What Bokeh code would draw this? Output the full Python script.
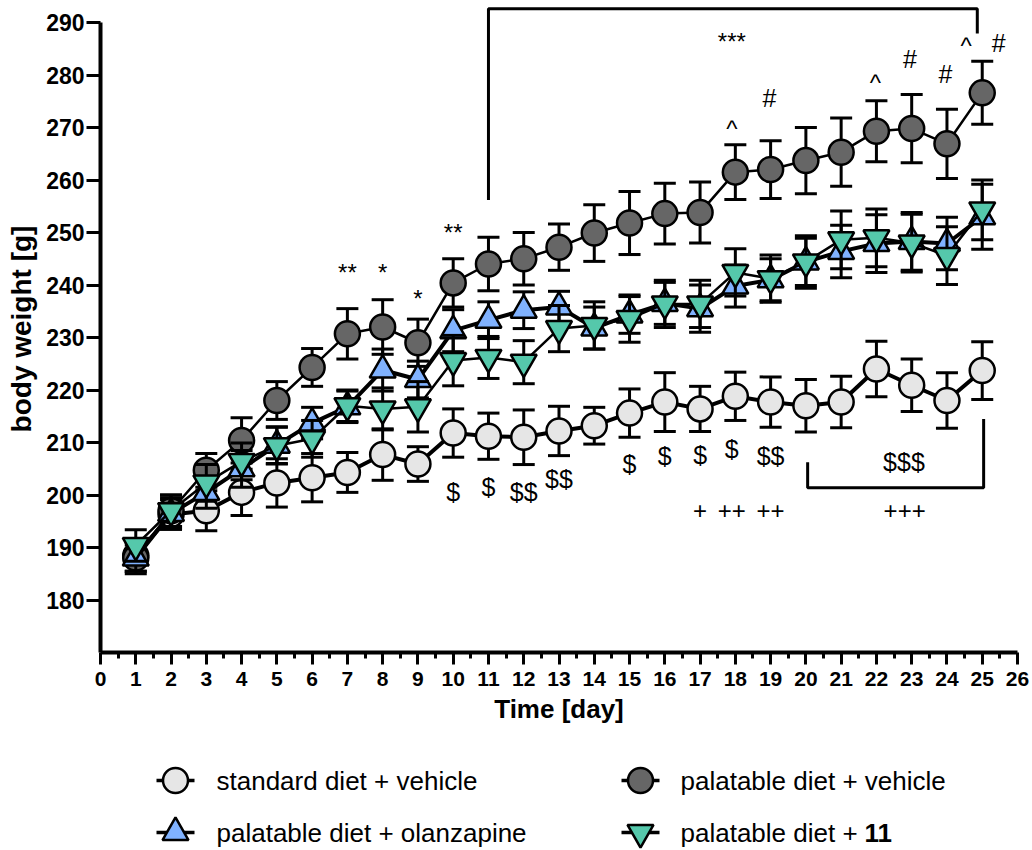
from bokeh.plotting import figure
from bokeh.models import Range1d, FixedTicker
from bokeh.layouts import column
from bokeh.core.properties import value
from bokeh.embed import file_html
from bokeh.resources import INLINE

# ---------------- data ----------------
days = list(range(1, 26))

std_mean = [188.5, 196.3, 197.0, 200.5, 202.3, 203.3, 204.3, 207.7, 205.9, 211.8,
            211.2, 211.0, 212.2, 213.2, 215.6, 217.7, 216.4, 218.8, 217.7, 217.0,
            217.7, 224.0, 220.9, 218.0, 223.7]
std_sem = [3.0, 2.8, 3.8, 4.4, 4.6, 4.6, 3.8, 4.9, 3.3, 4.6,
           4.4, 5.2, 4.7, 3.5, 4.6, 5.6, 4.3, 4.6, 4.8, 5.0,
           4.9, 5.3, 5.0, 5.3, 5.5]

pal_mean = [188.0, 197.0, 204.7, 210.4, 218.0, 224.3, 230.7, 232.0, 229.0, 240.4,
            244.0, 245.0, 247.2, 249.9, 251.8, 253.6, 253.8, 261.5, 262.0, 263.7,
            265.3, 269.3, 269.8, 266.9, 276.6]
pal_sem = [3.0, 3.0, 3.2, 4.3, 3.6, 3.6, 4.8, 5.2, 4.5, 4.6,
           5.1, 5.0, 4.4, 5.4, 6.0, 5.8, 5.8, 5.2, 5.5, 6.3,
           6.5, 5.8, 6.5, 6.6, 6.0]

olz_mean = [188.0, 196.5, 200.5, 205.0, 209.5, 213.7, 216.8, 223.8, 222.0, 231.3,
            233.3, 235.2, 235.8, 231.8, 234.3, 236.5, 235.5, 239.8, 241.0, 244.4,
            246.4, 247.9, 248.3, 247.9, 253.0]
olz_sem = [2.5, 3.0, 3.0, 3.5, 3.5, 3.0, 3.0, 4.0, 3.5, 4.0,
           3.5, 3.5, 3.0, 4.0, 3.5, 4.0, 4.5, 4.0, 4.0, 4.5,
           5.0, 5.5, 5.5, 5.0, 6.2]

c11_mean = [190.4, 197.0, 202.3, 206.4, 209.4, 210.7, 217.0, 216.4, 216.8, 225.6,
            226.2, 225.3, 231.7, 232.3, 233.6, 236.4, 236.4, 242.4, 241.2, 244.4,
            248.6, 249.0, 248.0, 245.6, 254.3]
c11_sem = [3.0, 3.0, 3.5, 3.5, 3.5, 3.5, 3.0, 4.0, 4.8, 4.8,
           4.0, 4.1, 4.4, 4.5, 4.5, 4.5, 4.5, 4.5, 4.5, 5.0,
           5.5, 5.5, 5.5, 5.5, 5.7]

series_names = ["standard diet + vehicle", "palatable diet + vehicle",
                "palatable diet + olanzapine", "palatable diet + "]

x_ticks = list(range(0, 27))
y_ticks = list(range(180, 291, 10))

# significance annotations (day, body weight, label)
star_x = [7, 8, 9, 10, 17.9]
star_y = [242.4, 242.4, 237.4, 250.0, 286.4]
star_t = ["**", "*", "*", "**", "***"]
hat_x = [17.9, 21.97, 24.54]
hat_y = [269.8, 278.6, 285.6]
hat_t = ["^", "^", "^"]
hash_x = [18.97, 22.95, 23.96, 25.47]
hash_y = [275.6, 283.0, 280.1, 286.1]
hash_t = ["#", "#", "#", "#"]
dol_x = [10, 11, 12, 13, 15, 16, 17, 17.9, 19, 22.78]
dol_y = [200.5, 201.5, 200.5, 203.1, 205.9, 207.5, 207.7, 208.8, 207.5, 206.2]
dol_t = ["$", "$", "$$", "$$", "$", "$", "$", "$", "$$", "$$$"]
plus_x = [17, 17.9, 19, 22.8]
plus_y = [197.0, 197.0, 197.0, 197.0]
plus_t = ["+", "++", "++", "+++"]

# brackets (day, body weight)
top_br_x = [11.0, 11.0, 24.86, 24.86]
top_br_y = [256.2, 292.6, 292.6, 287.9]
bot_br_x = [20.05, 20.05, 25.04, 25.04]
bot_br_y = [206.25, 201.4, 201.4, 214.5]

FONT = "Liberation Sans"

p = figure(width=1032, height=740, x_range=Range1d(0, 26), y_range=Range1d(170, 293.24),
           output_backend="svg", toolbar_location=None,
           min_border_left=100, min_border_right=15, min_border_top=5, min_border_bottom=88)
p.outline_line_color = None
p.xgrid.visible = False
p.ygrid.visible = False
p.background_fill_color = "white"
p.border_fill_color = "white"

# axes
p.xaxis.ticker = FixedTicker(ticks=x_ticks, minor_ticks=[t + 0.5 for t in x_ticks[:-1]])
p.xaxis.bounds = (0, 26)
p.yaxis.ticker = FixedTicker(ticks=y_ticks, minor_ticks=[])
p.yaxis.bounds = (170, 290)
for ax in (p.xaxis, p.yaxis):
    ax.axis_line_width = 4
    ax.axis_line_color = "black"
    ax.major_tick_line_width = 3
    ax.major_tick_line_color = "black"
    ax.major_tick_in = 0
    ax.minor_tick_in = 0
    ax.major_label_text_font = FONT
    ax.major_label_text_font_style = "bold"
    ax.major_label_text_color = "black"
    ax.axis_label_text_font = FONT
    ax.axis_label_text_font_style = "bold"
    ax.axis_label_text_color = "black"
p.xaxis.major_tick_out = 12
p.xaxis.minor_tick_out = 6
p.xaxis.minor_tick_line_width = 3
p.xaxis.minor_tick_line_color = "black"
p.xaxis.major_label_text_font_size = "21px"
p.xaxis.major_label_standoff = 7
p.xaxis.axis_label = "Time [day]"
p.xaxis.axis_label_text_font_size = "26px"
p.xaxis.axis_label_standoff = 5
p.yaxis.major_tick_out = 14
p.yaxis.major_label_text_font_size = "23px"
p.yaxis.major_label_standoff = 2
p.yaxis.axis_label = "body weight [g]"
p.yaxis.axis_label_text_font_size = "28px"
p.yaxis.axis_label_standoff = 6

styles = [
    (std_mean, std_sem, "circle", "#e6e6e6", 4.0, 25),
    (pal_mean, pal_sem, "circle", "#666666", 2.5, 25),
    (olz_mean, olz_sem, "triangle", "#80b2ff", 4.0, 26),
    (c11_mean, c11_sem, "inverted_triangle", "#55c8ab", 2.5, 26),
]

for mean, sem, marker, fill, lw, size in styles:
    up = [m + s for m, s in zip(mean, sem)]
    lo = [m - s for m, s in zip(mean, sem)]
    p.segment(x0=days, y0=lo, x1=days, y1=up, line_color="black", line_width=3)
    p.scatter(x=days, y=up, marker="dash", size=22, line_color="black", line_width=3)
    p.scatter(x=days, y=lo, marker="dash", size=22, line_color="black", line_width=3)
    p.line(x=days, y=mean, line_color="black", line_width=lw)
    p.scatter(x=days, y=mean, marker=marker, size=size, fill_color=fill,
              line_color="black", line_width=2.5)

# brackets
p.line(x=top_br_x, y=top_br_y, line_color="black", line_width=3)
p.line(x=bot_br_x, y=bot_br_y, line_color="black", line_width=3)

# annotations
for xs, ys, ts, fs in [(star_x, star_y, star_t, "24px"), (hat_x, hat_y, hat_t, "24px"),
                       (hash_x, hash_y, hash_t, "25px"), (dol_x, dol_y, dol_t, "25px"),
                       (plus_x, plus_y, plus_t, "24px")]:
    p.text(x=xs, y=ys, text=ts, text_align="center", text_baseline="middle",
           text_font=value(FONT), text_font_size=fs, text_color="black")

# ---------------- legend panel ----------------
# legend panel uses page pixels: its frame spans the same horizontal pixels as the plot frame
lg = figure(width=1032, height=110, x_range=Range1d(100, 1017), y_range=Range1d(110, 0),
            output_backend="svg", toolbar_location=None, x_axis_type=None, y_axis_type=None,
            min_border_left=100, min_border_right=15, min_border_top=0,
            min_border_bottom=0)
lg.outline_line_color = None
lg.xgrid.visible = False
lg.ygrid.visible = False
lg.background_fill_color = "white"
lg.border_fill_color = "white"

leg_mx = [175, 640, 175, 640]
leg_my = [40, 40, 92, 92]
leg_tx = [216, 680, 216, 680]
for i, (mean, sem, marker, fill, lw, size) in enumerate(styles):
    lg.line(x=[leg_mx[i] - 19, leg_mx[i] + 19], y=[leg_my[i], leg_my[i]],
            line_color="black", line_width=3.5)
    lg.scatter(x=[leg_mx[i]], y=[leg_my[i]], marker=marker, size=size, fill_color=fill,
               line_color="black", line_width=2.5)
lg.text(x=leg_tx, y=leg_my, text=series_names, text_align="left", text_baseline="middle",
        text_font=value(FONT), text_font_size="26px", text_color="black")
lg.text(x=[leg_tx[3] + 184], y=[leg_my[3]], text=["11"], text_align="left",
        text_baseline="middle", text_font=value(FONT), text_font_size="26px",
        text_font_style="bold", text_color="black")

layout = column(p, lg, spacing=0)
open("out.html", "w").write(file_html(layout, INLINE))
